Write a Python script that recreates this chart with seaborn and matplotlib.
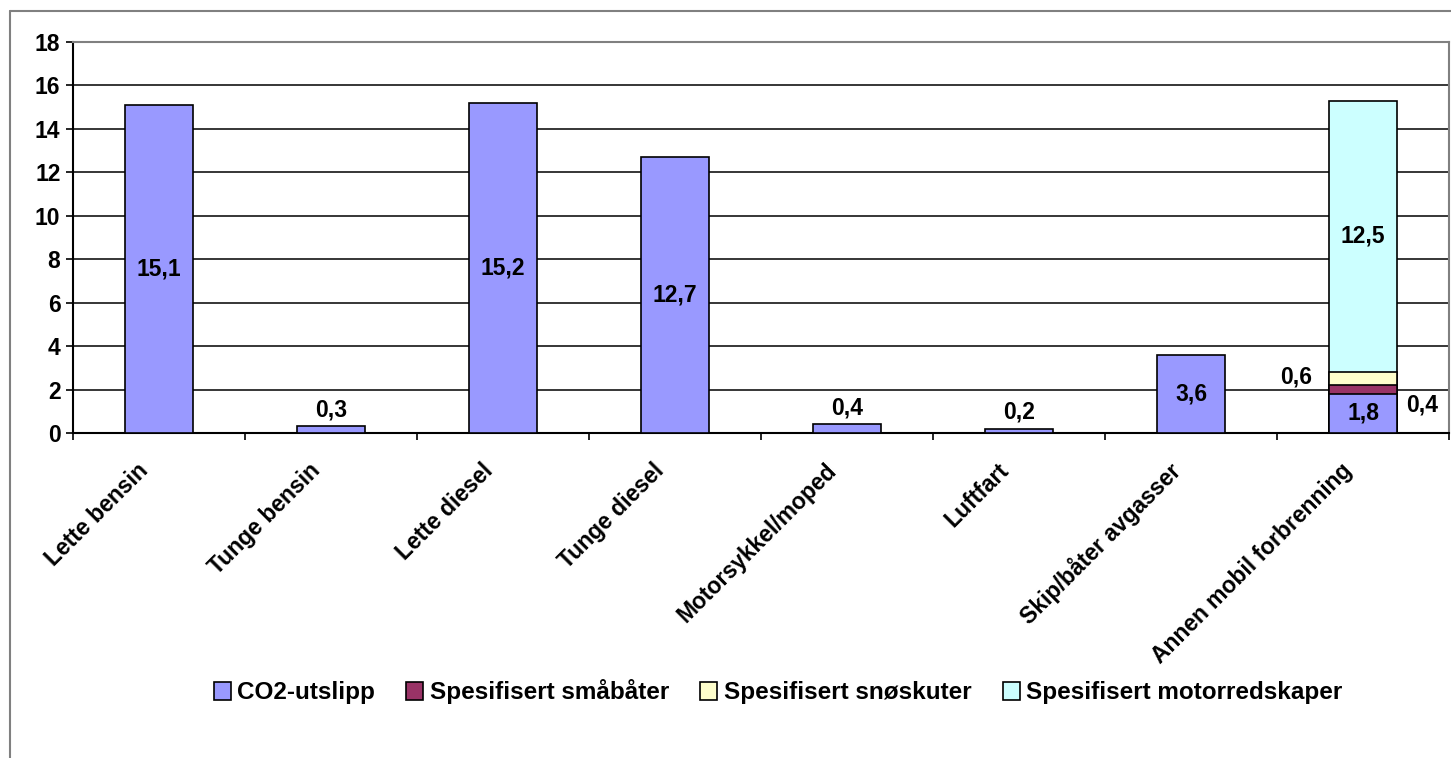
import matplotlib
matplotlib.use("Agg")
import matplotlib.pyplot as plt
import matplotlib.transforms as mtransforms
from matplotlib.patches import Patch
from matplotlib.lines import Line2D
from matplotlib.ticker import FixedLocator
import seaborn as sns
import pandas as pd
import numpy as np

categories = ["Lette bensin", "Tunge bensin", "Lette diesel", "Tunge diesel",
              "Motorsykkel/moped", "Luftfart", "Skip/båter avgasser",
              "Annen mobil forbrenning"]
co2 = [15.1, 0.3, 15.2, 12.7, 0.4, 0.2, 3.6, 1.8]
smabater = [0, 0, 0, 0, 0, 0, 0, 0.4]
snoskuter = [0, 0, 0, 0, 0, 0, 0, 0.6]
motorredskaper = [0, 0, 0, 0, 0, 0, 0, 12.5]
series_names = ["CO2-utslipp", "Spesifisert småbåter", "Spesifisert snøskuter",
                "Spesifisert motorredskaper"]
colors = ["#9999FF", "#993366", "#FFFFCC", "#CCFFFF"]
yticks = [0, 2, 4, 6, 8, 10, 12, 14, 16, 18]

sns.set_theme(style="white")
plt.rcParams['font.family'] = ['Liberation Sans', 'DejaVu Sans']
plt.rcParams['font.weight'] = 'bold'
plt.rcParams['text.color'] = 'black'
plt.rcParams['xtick.color'] = 'black'
plt.rcParams['ytick.color'] = 'black'
plt.rcParams['xtick.labelcolor'] = 'black'
plt.rcParams['ytick.labelcolor'] = 'black'
FS = 16.5

fig = plt.figure(figsize=(14.51, 7.58), dpi=100)
ax = fig.add_axes([73/1451, 1-433/758, (1449-73)/1451, (433-42)/758])

series = [co2, smabater, snoskuter, motorredskaper]
cum = np.cumsum(np.array(series, dtype=float), axis=0)

for i in range(len(series) - 1, -1, -1):
    vals = cum[i]
    if i == 0:
        df = pd.DataFrame({"cat": categories, "v": vals})
    else:
        mask = np.array(series[i]) > 0
        df = pd.DataFrame({"cat": np.array(categories)[mask], "v": vals[mask]})
    sns.barplot(data=df, x="cat", y="v", order=categories, color=colors[i],
                saturation=1, width=0.4, edgecolor="black", linewidth=1.2,
                ax=ax, zorder=3)

ax.set_ylim(0, 18)
ax.set_xlim(-0.5, len(categories) - 0.5)
ax.set_yticks(yticks)
ax.set_yticklabels([str(t) for t in yticks], fontsize=FS, fontweight='bold')
ax.grid(axis='y', color='black', linewidth=1.1, zorder=0)
ax.set_axisbelow(True)
ax.set_xlabel("")
ax.set_ylabel("")

ax.set_xticks(range(len(categories)))
ax.set_xticklabels([])
lab_tr = ax.get_xaxis_transform() + mtransforms.ScaledTranslation(
    -14/100, -34/100, fig.dpi_scale_trans)
for j, c in enumerate(categories):
    ax.text(j, 0, c, rotation=45, ha='right', va='center', rotation_mode='anchor',
            fontsize=FS, fontweight='bold', transform=lab_tr, clip_on=False)

ax.xaxis.set_minor_locator(FixedLocator(np.arange(-0.5, len(categories), 1.0)))
ax.tick_params(axis='x', which='major', length=0)
ax.tick_params(axis='x', which='minor', length=5, width=1.2, color='black',
               direction='out', bottom=True)
ax.tick_params(axis='y', which='major', length=5, width=1.2, color='black',
               direction='out', left=True, pad=4)

for s in ['left', 'bottom']:
    ax.spines[s].set_color('black')
    ax.spines[s].set_linewidth(1.5)
for s in ['top', 'right']:
    ax.spines[s].set_color('#808080')
    ax.spines[s].set_linewidth(1.5)

lab = lambda v: f"{v:.1f}".replace(".", ",")
for j, v in enumerate(co2):
    if v >= 1:
        ax.text(j, v / 2, lab(v), ha='center', va='center', fontsize=FS,
                fontweight='bold', zorder=5)
    else:
        ax.annotate(lab(v), (j, v), xytext=(0, 12), textcoords='offset points',
                    ha='center', va='center', fontsize=FS, fontweight='bold')

last = len(categories) - 1
ax.text(last, cum[2][last] + motorredskaper[last] / 2, lab(motorredskaper[last]),
        ha='center', va='center', fontsize=FS, fontweight='bold', zorder=5)
ax.annotate(lab(snoskuter[last]), (last - 0.2, cum[1][last] + snoskuter[last] / 2),
            xytext=(-12, 1), textcoords='offset points', ha='right', va='center',
            fontsize=FS, fontweight='bold')
ax.annotate(lab(smabater[last]), (last + 0.2, cum[0][last] + smabater[last] / 2),
            xytext=(6, -11), textcoords='offset points', ha='left', va='center',
            fontsize=FS, fontweight='bold')

handles = [Patch(facecolor=c, edgecolor='black', linewidth=1.2) for c in colors]
fig.legend(handles, series_names, loc='center', bbox_to_anchor=(778/1451, 1-692/758),
           ncol=4, frameon=False, prop={'weight': 'bold', 'size': 17.5},
           handlelength=0.7, handleheight=0.7, handletextpad=0.25, columnspacing=1.3)

fig.add_artist(Line2D([9.5/1451, 1], [1-10.5/758, 1-10.5/758], color='#808080',
                      linewidth=1.5, transform=fig.transFigure))
fig.add_artist(Line2D([9.5/1451, 9.5/1451], [0, 1-10.5/758], color='#808080',
                      linewidth=1.5, transform=fig.transFigure))

fig.savefig("out.png", dpi=100)
